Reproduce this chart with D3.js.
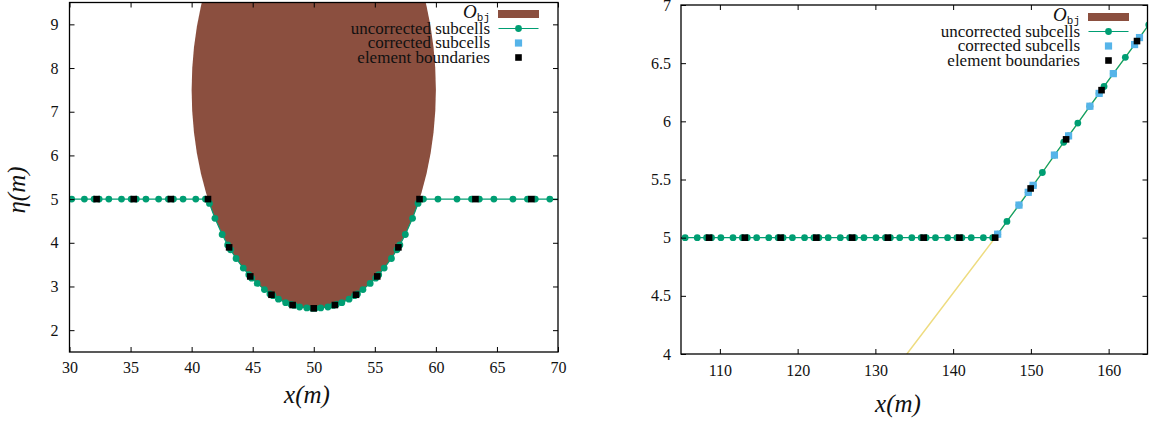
<!DOCTYPE html>
<html>
<head>
<meta charset="utf-8">
<script src="https://cdn.jsdelivr.net/npm/d3@7"></script>
<style>
  body { margin: 0; background: #fff; }
  svg text { font-family: "Liberation Serif", "DejaVu Serif", serif; fill: #111; }
</style>
</head>
<body>
<svg id="chart" width="1149" height="421"></svg>
<script>
// ---- data ----
const legendLabels = ["uncorrected subcells", "corrected subcells", "element boundaries"];

// left panel
const leftXTicks = [30, 35, 40, 45, 50, 55, 60, 65, 70];
const leftYTicks = [2, 3, 4, 5, 6, 7, 8, 9];
const obstacleEllipse = [50, 7.5, 10, 5]; // centre x, centre y, half width, half height (m)

const leftSubX = [29.39, 30.18, 31.22, 32.01, 32.43, 33.22, 34.26, 35.05, 35.47, 36.26, 37.30, 38.09,
  38.51, 39.30, 40.34, 41.13,
  41.46, 41.91, 42.50, 42.95, 43.19, 43.64, 44.23, 44.68, 44.92, 45.37, 45.96, 46.41,
  46.66, 47.11, 47.70, 48.15, 48.39, 48.84, 49.43, 49.88, 50.12, 50.57, 51.16, 51.61,
  51.85, 52.30, 52.89, 53.34, 53.58, 54.03, 54.62, 55.07, 55.32, 55.77, 56.36, 56.81,
  57.05, 57.50, 58.09, 58.54,
  58.98, 60.17, 61.73, 62.92, 63.56, 64.75, 66.31, 67.50, 68.14, 69.33, 70.89];
const leftSubY = [5, 5, 5, 5, 5, 5, 5, 5, 5, 5, 5, 5,
  5, 5, 5, 5,
  4.90, 4.56, 4.19, 3.95, 3.84, 3.64, 3.42, 3.27, 3.19, 3.07, 2.93, 2.83,
  2.79, 2.71, 2.63, 2.59, 2.565, 2.53, 2.51, 2.50, 2.50, 2.51, 2.53, 2.565,
  2.59, 2.63, 2.71, 2.79, 2.83, 2.93, 3.07, 3.19, 3.27, 3.42, 3.64, 3.84,
  3.95, 4.19, 4.56, 4.90,
  5, 5, 5, 5, 5, 5, 5, 5, 5, 5, 5];
const leftBndX = [32.22, 35.26, 38.30, 41.34, 43.07, 44.80, 46.54, 48.27, 50.00,
  51.73, 53.46, 55.20, 56.93, 58.66, 63.24, 67.82];
const leftBndY = [5, 5, 5, 5, 3.895, 3.23, 2.81, 2.575, 2.50,
  2.575, 2.81, 3.23, 3.895, 5, 5, 5];

// right panel
const rightXTicks = [110, 120, 130, 140, 150, 160];
const rightYTicks = [4, 4.5, 5, 5.5, 6, 6.5, 7];

const rightSubX = [104.33, 105.53, 107.09, 108.29, 108.93, 110.13, 111.69, 112.89,
  113.53, 114.73, 116.29, 117.49, 118.13, 119.33, 120.89, 122.09,
  122.73, 123.93, 125.49, 126.69, 127.33, 128.53, 130.09, 131.29,
  131.93, 133.13, 134.69, 135.89, 136.53, 137.73, 139.29, 140.49,
  141.13, 142.33, 143.89, 145.09,
  145.73, 146.92, 148.47, 149.66, 150.29, 151.48, 153.03, 154.22,
  154.85, 156.04, 157.59, 158.78, 159.41, 160.60, 162.15, 163.34, 163.97, 165.16];
const rightSubY = [5, 5, 5, 5, 5, 5, 5, 5,
  5, 5, 5, 5, 5, 5, 5, 5,
  5, 5, 5, 5, 5, 5, 5, 5,
  5, 5, 5, 5, 5, 5, 5, 5,
  5, 5, 5, 5,
  5.03, 5.14, 5.28, 5.39, 5.45, 5.56, 5.71, 5.82,
  5.875, 5.985, 6.13, 6.24, 6.30, 6.41, 6.55, 6.66, 6.72, 6.83];
const rightCorrX = [145.73, 148.47, 149.66, 150.29, 153.03, 154.85, 157.59, 158.78, 160.60, 163.34, 163.97];
const rightCorrY = [5.03, 5.28, 5.39, 5.45, 5.71, 5.875, 6.13, 6.24, 6.41, 6.66, 6.72];
const rightBndX = [108.61, 113.21, 117.81, 122.41, 127.01, 131.61, 136.21, 140.81,
  145.41, 149.97, 154.53, 159.09, 163.65];
const rightBndY = [5, 5, 5, 5, 5, 5, 5, 5, 5, 5.423, 5.845, 6.268, 6.69];
const rampX = [134.05, 145.41, 165.16];
const rampY = [4, 5.0, 6.83];

// ---- colours ----
const green = "#009e73";
const blue = "#56b4e9";
const brown = "#8b4f3f";
const yellow = "#eedc80";

const svg = d3.select("#chart");

function drawPanel(p) {
  const x = d3.scaleLinear().domain(p.xDomain).range([p.left, p.right]);
  const y = d3.scaleLinear().domain(p.yDomain).range([p.bottom, p.top]);

  const clipId = "clip-" + p.name;
  svg.append("clipPath").attr("id", clipId)
    .append("rect")
    .attr("x", p.left).attr("y", p.top)
    .attr("width", p.right - p.left).attr("height", p.bottom - p.top);

  const plot = svg.append("g").attr("clip-path", `url(#${clipId})`);

  // obstacle
  if (p.ellipse) {
    const [cx, cy, rx, ry] = p.ellipse;
    plot.append("ellipse")
      .attr("cx", x(cx)).attr("cy", y(cy))
      .attr("rx", x(cx + rx) - x(cx)).attr("ry", y(cy - ry) - y(cy))
      .attr("fill", brown);
  }

  // ramp (pale yellow)
  if (p.ramp) {
    plot.append("path")
      .datum(d3.zip(p.ramp[0], p.ramp[1]))
      .attr("fill", "none").attr("stroke", yellow).attr("stroke-width", 1.5)
      .attr("d", d3.line().x(d => x(d[0])).y(d => y(d[1])));
  }

  // uncorrected subcells: line + dots
  const sub = d3.zip(p.subX, p.subY);
  plot.append("path")
    .datum(sub)
    .attr("fill", "none").attr("stroke", green).attr("stroke-width", 1.2)
    .attr("d", d3.line().x(d => x(d[0])).y(d => y(d[1])));
  plot.selectAll(".dot").data(sub).enter().append("circle")
    .attr("cx", d => x(d[0])).attr("cy", d => y(d[1]))
    .attr("r", 3.4).attr("fill", green);

  // corrected subcells
  if (p.corrX) {
    plot.selectAll(".corr").data(d3.zip(p.corrX, p.corrY)).enter().append("rect")
      .attr("x", d => x(d[0]) - 3.6).attr("y", d => y(d[1]) - 3.6)
      .attr("width", 7.2).attr("height", 7.2).attr("fill", blue);
  }

  // element boundaries
  plot.selectAll(".bnd").data(d3.zip(p.bndX, p.bndY)).enter().append("rect")
    .attr("x", d => x(d[0]) - 3.3).attr("y", d => y(d[1]) - 3.3)
    .attr("width", 6.6).attr("height", 6.6).attr("fill", "#000");

  // axes, gnuplot style: inward ticks mirrored on all sides
  const styleAxis = (g, size) => {
    g.select(".domain").remove();
    g.selectAll(".tick line").attr("stroke", "#000").attr("stroke-width", 1);
    g.selectAll("text").attr("font-family", "Liberation Serif, DejaVu Serif, serif")
      .attr("font-size", size).attr("fill", "#222");
  };
  svg.append("g").attr("transform", `translate(0,${p.bottom})`)
    .call(d3.axisBottom(x).tickValues(p.xTicks).tickSize(-5).tickPadding(p.xPad).tickFormat(d => String(d)))
    .call(g => styleAxis(g, 16));
  svg.append("g").attr("transform", `translate(0,${p.top})`)
    .call(d3.axisTop(x).tickValues(p.xTicks).tickSize(-5).tickFormat(""))
    .call(g => styleAxis(g, 16));
  svg.append("g").attr("transform", `translate(${p.left},0)`)
    .call(d3.axisLeft(y).tickValues(p.yTicks).tickSize(-5).tickPadding(p.yPad).tickFormat(d => String(d)))
    .call(g => styleAxis(g, 16));
  svg.append("g").attr("transform", `translate(${p.right},0)`)
    .call(d3.axisRight(y).tickValues(p.yTicks).tickSize(-5).tickFormat(""))
    .call(g => styleAxis(g, 16));

  // frame
  svg.append("rect")
    .attr("x", p.left).attr("y", p.top)
    .attr("width", p.right - p.left).attr("height", p.bottom - p.top)
    .attr("fill", "none").attr("stroke", "#000").attr("stroke-width", 1.3);

  // axis titles
  svg.append("text")
    .attr("x", p.xTitle[0]).attr("y", p.xTitle[1])
    .attr("text-anchor", "middle").attr("font-style", "italic").attr("font-size", 25)
    .text("x(m)");
  if (p.yTitle) {
    svg.append("text")
      .attr("transform", `translate(${p.yTitle[0]},${p.yTitle[1]}) rotate(-90)`)
      .attr("text-anchor", "middle").attr("font-style", "italic").attr("font-size", 25)
      .text("η(m)");
  }

  // legend
  const lg = svg.append("g");
  const tx = p.legendX, sx = p.legendX + 28.5;
  const rows = [0, 1, 2, 3].map(i => p.legendY + i * 14.5);

  const t0 = lg.append("text").attr("x", tx).attr("y", rows[0] + 4)
    .attr("text-anchor", "end").attr("fill", "#222");
  t0.append("tspan").attr("font-style", "italic").attr("font-size", 19).text("O");
  t0.append("tspan").attr("font-family", "Liberation Mono, DejaVu Sans Mono, monospace")
    .attr("font-size", 11).attr("dy", 3).text("bj");
  lg.append("rect").attr("x", sx - 20.5).attr("y", rows[0] - 4)
    .attr("width", 41).attr("height", 8).attr("fill", brown);

  legendLabels.forEach((lab, i) => {
    lg.append("text").attr("x", tx).attr("y", rows[i + 1] + 5)
      .attr("text-anchor", "end").attr("font-size", 17).attr("fill", "#222")
      .text(lab);
  });
  lg.append("line").attr("x1", sx - 20).attr("x2", sx + 20)
    .attr("y1", rows[1]).attr("y2", rows[1])
    .attr("stroke", green).attr("stroke-width", 1.2);
  lg.append("circle").attr("cx", sx).attr("cy", rows[1]).attr("r", 3.4).attr("fill", green);
  lg.append("rect").attr("x", sx - 3.6).attr("y", rows[2] - 3.6)
    .attr("width", 7.2).attr("height", 7.2).attr("fill", blue);
  lg.append("rect").attr("x", sx - 3.3).attr("y", rows[3] - 3.3)
    .attr("width", 6.6).attr("height", 6.6).attr("fill", "#000");
}

drawPanel({
  name: "left",
  left: 69.5, right: 558, top: 2.5, bottom: 352,
  xDomain: [30, 70], yDomain: [1.5, 9.5],
  xTicks: leftXTicks, yTicks: leftYTicks, xPad: 10, yPad: 11,
  ellipse: obstacleEllipse,
  subX: leftSubX, subY: leftSubY,
  bndX: leftBndX, bndY: leftBndY,
  xTitle: [307, 403], yTitle: [25, 190],
  legendX: 490, legendY: 14
});

drawPanel({
  name: "right",
  left: 681, right: 1147.5, top: 5, bottom: 354,
  xDomain: [105, 165], yDomain: [4, 7],
  xTicks: rightXTicks, yTicks: rightYTicks, xPad: 11, yPad: 10,
  ramp: [rampX, rampY],
  subX: rightSubX, subY: rightSubY,
  corrX: rightCorrX, corrY: rightCorrY,
  bndX: rightBndX, bndY: rightBndY,
  xTitle: [898, 412],
  legendX: 1080, legendY: 17
});
</script>
</body>
</html>
